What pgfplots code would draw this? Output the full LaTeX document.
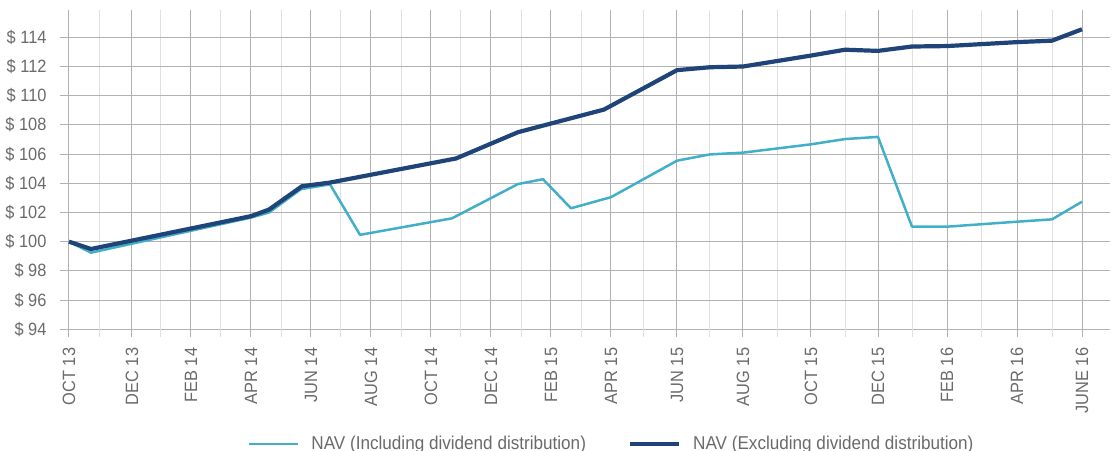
\documentclass[border=0pt]{standalone}
\usepackage{fontspec}
\setmainfont{Liberation Sans}[FakeStretch=0.92]
\usepackage{pgfplots}
\pgfplotsset{compat=1.18}
\definecolor{navy}{HTML}{1F4477}
\definecolor{aqua}{HTML}{42AFC9}
\definecolor{gridgray}{HTML}{B2B2B2}
\definecolor{lightgrid}{HTML}{E0E0E0}
\definecolor{txtgray}{HTML}{6A6A6A}
\begin{document}
\begin{tikzpicture}
\useasboundingbox (-60bp,-121.7bp) rectangle (1053bp,329.3bp);
\begin{axis}[
  at={(0,0)}, anchor=south west,
  scale only axis,
  width=1050bp, height=319bp,
  xmin=60, xmax=1110,
  ymin=94, ymax=115.85,
  axis line style={draw=none},
  xtick={69,132,191,251,311,371,431,491,551,611,677,743,811,878,947,1017,1082},
  xticklabels={OCT 13,DEC 13,FEB 14,APR 14,JUN 14,AUG 14,OCT 14,DEC 14,FEB 15,APR 15,JUN 15,AUG 15,OCT 15,DEC 15,FEB 16,APR 16,JUNE 16},
  minor xtick={100,161,221,282,341,401.7,461,522,582,644,710,778,845,912,981,1052},
  ytick={94,96,98,100,102,104,106,108,110,112,114},
  yticklabels={\$ 94,\$ 96,\$ 98,\$ 100,\$ 102,\$ 104,\$ 106,\$ 108,\$ 110,\$ 112,\$ 114},
  xtick pos=lower, ytick pos=left,
  tick align=outside,
  major tick length=8bp, minor tick length=8bp,
  xmajorgrids, xminorgrids, ymajorgrids,
  major grid style={draw=gridgray, line width=1bp},
  minor grid style={draw=lightgrid, line width=1bp},
  major tick style={draw=gridgray, line width=1bp},
  minor tick style={draw=lightgrid, line width=1bp},
  ytick style={draw=none},
  tick label style={font=\fontsize{17.8bp}{20bp}\selectfont, text=txtgray},
  xticklabel style={rotate=90, anchor=east, xshift=-7bp},
  yticklabel style={anchor=east, xshift=-2bp},
  legend columns=2,
  legend style={draw=none, fill=none, inner sep=0pt, outer sep=0pt,
    at={(axis description cs:0.179,-0.359)}, anchor=west,
    font=\fontsize{18.6bp}{21bp}\selectfont, text=txtgray,
    /tikz/every odd column/.append style={column sep=10bp},
    /tikz/every even column/.append style={column sep=40bp}},
  legend cell align=left,
  legend image code/.code={\draw[#1] (0bp,0bp) -- (49bp,0bp);},
]
\addplot[aqua, line width=2.5bp, line join=round] coordinates {
(69,100.0) (91,99.25) (251,101.65) (269,102.0) (301,103.6) (330,103.93)
(360,100.47) (452,101.6) (518,103.95) (543,104.28) (571,102.29) (611,103.05)
(677,105.55) (710,105.98) (743,106.1) (811,106.67) (845,107.03) (878,107.18)
(912,101.03) (947,101.03) (1017,101.37) (1052,101.53) (1082,102.74)
};
\addlegendentry{NAV (Including dividend distribution)}
\addplot[navy, line width=4.2bp, line join=round] coordinates {
(69,100.0) (91,99.5) (251,101.75) (269,102.2) (302,103.8) (330,104.05)
(456,105.7) (518,107.5) (604,109.05) (677,111.75) (710,111.95) (743,112.0)
(811,112.75) (845,113.15) (878,113.07) (912,113.37) (947,113.4) (1017,113.67)
(1052,113.77) (1082,114.55)
};
\addlegendentry{NAV (Excluding dividend distribution)}
\end{axis}
\end{tikzpicture}
\end{document}
